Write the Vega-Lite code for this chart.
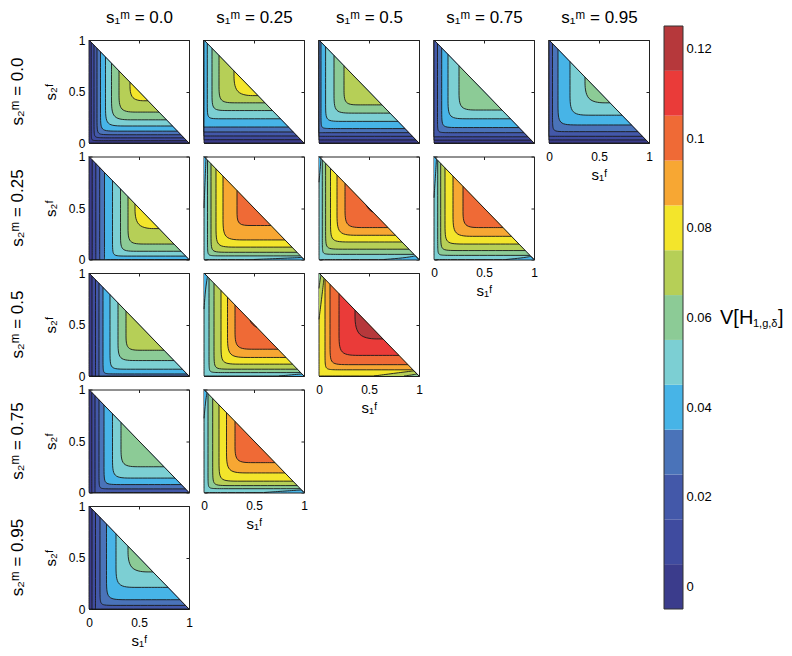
{
"$schema": "https://vega.github.io/schema/vega-lite/v6.json",
"padding": {"left": 9, "top": 8, "right": 0, "bottom": 0},
"datasets": {
"diag": [{"x":0,"y":1},{"x":1,"y":0}],
"bands": [{"b":0,"lo":-0.005,"hi":0.005},{"b":1,"lo":0.005,"hi":0.015},{"b":2,"lo":0.015,"hi":0.025},{"b":3,"lo":0.025,"hi":0.035},{"b":4,"lo":0.035,"hi":0.045},{"b":5,"lo":0.045,"hi":0.055},{"b":6,"lo":0.055,"hi":0.065},{"b":7,"lo":0.065,"hi":0.075},{"b":8,"lo":0.075,"hi":0.085},{"b":9,"lo":0.085,"hi":0.095},{"b":10,"lo":0.095,"hi":0.105},{"b":11,"lo":0.105,"hi":0.115},{"b":12,"lo":0.115,"hi":0.125}],
"A": [{"g":10,"b":0,"x":1,"y":0},{"g":10,"b":0,"x":0,"y":0},{"g":10,"b":0,"x":0,"y":0},{"g":10,"b":0,"x":0,"y":0},{"g":10,"b":0,"x":0,"y":1},
{"g":11,"b":1,"x":0.022,"y":0.978},{"g":11,"b":1,"x":0.022,"y":0.082},{"g":11,"b":1,"x":0.022,"y":0.022},{"g":11,"b":1,"x":0.082,"y":0.022},{"g":11,"b":1,"x":0.978,"y":0.022},
{"g":12,"b":2,"x":0.05,"y":0.95},{"g":12,"b":2,"x":0.05,"y":0.13},{"g":12,"b":2,"x":0.05,"y":0.05},{"g":12,"b":2,"x":0.13,"y":0.05},{"g":12,"b":2,"x":0.95,"y":0.05},
{"g":13,"b":3,"x":0.08,"y":0.92},{"g":13,"b":3,"x":0.08,"y":0.18},{"g":13,"b":3,"x":0.08,"y":0.08},{"g":13,"b":3,"x":0.18,"y":0.08},{"g":13,"b":3,"x":0.92,"y":0.08},
{"g":14,"b":4,"x":0.115,"y":0.885},{"g":14,"b":4,"x":0.115,"y":0.245},{"g":14,"b":4,"x":0.115,"y":0.115},{"g":14,"b":4,"x":0.245,"y":0.115},{"g":14,"b":4,"x":0.885,"y":0.115},
{"g":15,"b":5,"x":0.165,"y":0.835},{"g":15,"b":5,"x":0.165,"y":0.335},{"g":15,"b":5,"x":0.165,"y":0.165},{"g":15,"b":5,"x":0.335,"y":0.165},{"g":15,"b":5,"x":0.835,"y":0.165},
{"g":16,"b":6,"x":0.225,"y":0.775},{"g":16,"b":6,"x":0.225,"y":0.425},{"g":16,"b":6,"x":0.225,"y":0.225},{"g":16,"b":6,"x":0.425,"y":0.225},{"g":16,"b":6,"x":0.775,"y":0.225},
{"g":17,"b":7,"x":0.3,"y":0.7},{"g":17,"b":7,"x":0.3,"y":0.48},{"g":17,"b":7,"x":0.3,"y":0.3},{"g":17,"b":7,"x":0.48,"y":0.3},{"g":17,"b":7,"x":0.7,"y":0.3},
{"g":18,"b":8,"x":0.41,"y":0.59},{"g":18,"b":8,"x":0.41,"y":0.41},{"g":18,"b":8,"x":0.59,"y":0.41}],
"B": [{"g":10,"b":0,"x":1,"y":0},{"g":10,"b":0,"x":0,"y":0},{"g":10,"b":0,"x":0,"y":0},{"g":10,"b":0,"x":0,"y":0},{"g":10,"b":0,"x":0,"y":1},
{"g":11,"b":1,"x":0,"y":1},{"g":11,"b":1,"x":0,"y":0.032},{"g":11,"b":1,"x":0,"y":0.032},{"g":11,"b":1,"x":0,"y":0.032},{"g":11,"b":1,"x":0.968,"y":0.032},
{"g":12,"b":2,"x":0,"y":1},{"g":12,"b":2,"x":0,"y":0.068},{"g":12,"b":2,"x":0,"y":0.068},{"g":12,"b":2,"x":0,"y":0.068},{"g":12,"b":2,"x":0.932,"y":0.068},
{"g":13,"b":3,"x":0,"y":1},{"g":13,"b":3,"x":0,"y":0.107},{"g":13,"b":3,"x":0,"y":0.107},{"g":13,"b":3,"x":0,"y":0.107},{"g":13,"b":3,"x":0.893,"y":0.107},
{"g":14,"b":4,"x":0,"y":1},{"g":14,"b":4,"x":0,"y":0.155},{"g":14,"b":4,"x":0,"y":0.155},{"g":14,"b":4,"x":0,"y":0.155},{"g":14,"b":4,"x":0.845,"y":0.155},
{"g":15,"b":5,"x":0.033,"y":0.967},{"g":15,"b":5,"x":0.033,"y":0.335},{"g":15,"b":5,"x":0.033,"y":0.235},{"g":15,"b":5,"x":0.133,"y":0.235},{"g":15,"b":5,"x":0.765,"y":0.235},
{"g":16,"b":6,"x":0.08,"y":0.92},{"g":16,"b":6,"x":0.08,"y":0.455},{"g":16,"b":6,"x":0.08,"y":0.315},{"g":16,"b":6,"x":0.22,"y":0.315},{"g":16,"b":6,"x":0.685,"y":0.315},
{"g":17,"b":7,"x":0.15,"y":0.85},{"g":17,"b":7,"x":0.15,"y":0.55},{"g":17,"b":7,"x":0.15,"y":0.39},{"g":17,"b":7,"x":0.31,"y":0.39},{"g":17,"b":7,"x":0.61,"y":0.39},
{"g":18,"b":8,"x":0.3,"y":0.7},{"g":18,"b":8,"x":0.3,"y":0.46},{"g":18,"b":8,"x":0.54,"y":0.46}],
"C": [{"g":10,"b":0,"x":1,"y":0},{"g":10,"b":0,"x":0,"y":0},{"g":10,"b":0,"x":0,"y":0},{"g":10,"b":0,"x":0,"y":0},{"g":10,"b":0,"x":0,"y":1},
{"g":11,"b":1,"x":0,"y":1},{"g":11,"b":1,"x":0,"y":0.03},{"g":11,"b":1,"x":0,"y":0.03},{"g":11,"b":1,"x":0,"y":0.03},{"g":11,"b":1,"x":0.97,"y":0.03},
{"g":12,"b":2,"x":0,"y":1},{"g":12,"b":2,"x":0,"y":0.065},{"g":12,"b":2,"x":0,"y":0.065},{"g":12,"b":2,"x":0,"y":0.065},{"g":12,"b":2,"x":0.935,"y":0.065},
{"g":13,"b":3,"x":0,"y":1},{"g":13,"b":3,"x":0,"y":0.1},{"g":13,"b":3,"x":0,"y":0.1},{"g":13,"b":3,"x":0,"y":0.1},{"g":13,"b":3,"x":0.9,"y":0.1},
{"g":14,"b":4,"x":0.02,"y":0.98},{"g":14,"b":4,"x":0.02,"y":0.22},{"g":14,"b":4,"x":0.02,"y":0.14},{"g":14,"b":4,"x":0.1,"y":0.14},{"g":14,"b":4,"x":0.86,"y":0.14},
{"g":15,"b":5,"x":0.066,"y":0.934},{"g":15,"b":5,"x":0.066,"y":0.34},{"g":15,"b":5,"x":0.066,"y":0.21},{"g":15,"b":5,"x":0.196,"y":0.21},{"g":15,"b":5,"x":0.79,"y":0.21},
{"g":16,"b":6,"x":0.15,"y":0.85},{"g":16,"b":6,"x":0.15,"y":0.46},{"g":16,"b":6,"x":0.15,"y":0.29},{"g":16,"b":6,"x":0.32,"y":0.29},{"g":16,"b":6,"x":0.71,"y":0.29},
{"g":17,"b":7,"x":0.25,"y":0.75},{"g":17,"b":7,"x":0.25,"y":0.52},{"g":17,"b":7,"x":0.25,"y":0.37},{"g":17,"b":7,"x":0.4,"y":0.37},{"g":17,"b":7,"x":0.63,"y":0.37}],
"D": [{"g":10,"b":0,"x":1,"y":0},{"g":10,"b":0,"x":0,"y":0},{"g":10,"b":0,"x":0,"y":0},{"g":10,"b":0,"x":0,"y":0},{"g":10,"b":0,"x":0,"y":1},
{"g":11,"b":1,"x":0,"y":1},{"g":11,"b":1,"x":0,"y":0.028},{"g":11,"b":1,"x":0,"y":0.028},{"g":11,"b":1,"x":0,"y":0.028},{"g":11,"b":1,"x":0.972,"y":0.028},
{"g":12,"b":2,"x":0,"y":1},{"g":12,"b":2,"x":0,"y":0.06},{"g":12,"b":2,"x":0,"y":0.06},{"g":12,"b":2,"x":0,"y":0.06},{"g":12,"b":2,"x":0.94,"y":0.06},
{"g":13,"b":3,"x":0.035,"y":0.965},{"g":13,"b":3,"x":0.035,"y":0.18},{"g":13,"b":3,"x":0.035,"y":0.1},{"g":13,"b":3,"x":0.115,"y":0.1},{"g":13,"b":3,"x":0.9,"y":0.1},
{"g":14,"b":4,"x":0.077,"y":0.923},{"g":14,"b":4,"x":0.077,"y":0.27},{"g":14,"b":4,"x":0.077,"y":0.15},{"g":14,"b":4,"x":0.197,"y":0.15},{"g":14,"b":4,"x":0.85,"y":0.15},
{"g":15,"b":5,"x":0.14,"y":0.86},{"g":15,"b":5,"x":0.14,"y":0.405},{"g":15,"b":5,"x":0.14,"y":0.235},{"g":15,"b":5,"x":0.31,"y":0.235},{"g":15,"b":5,"x":0.765,"y":0.235},
{"g":16,"b":6,"x":0.25,"y":0.75},{"g":16,"b":6,"x":0.25,"y":0.5},{"g":16,"b":6,"x":0.25,"y":0.32},{"g":16,"b":6,"x":0.43,"y":0.32},{"g":16,"b":6,"x":0.68,"y":0.32}],
"E": [{"g":10,"b":0,"x":1,"y":0},{"g":10,"b":0,"x":0,"y":0},{"g":10,"b":0,"x":0,"y":0},{"g":10,"b":0,"x":0,"y":0},{"g":10,"b":0,"x":0,"y":1},
{"g":11,"b":1,"x":0,"y":1},{"g":11,"b":1,"x":0,"y":0.03},{"g":11,"b":1,"x":0,"y":0.03},{"g":11,"b":1,"x":0,"y":0.03},{"g":11,"b":1,"x":0.97,"y":0.03},
{"g":12,"b":2,"x":0,"y":1},{"g":12,"b":2,"x":0,"y":0.065},{"g":12,"b":2,"x":0,"y":0.065},{"g":12,"b":2,"x":0,"y":0.065},{"g":12,"b":2,"x":0.935,"y":0.065},
{"g":13,"b":3,"x":0.035,"y":0.965},{"g":13,"b":3,"x":0.035,"y":0.21},{"g":13,"b":3,"x":0.035,"y":0.11},{"g":13,"b":3,"x":0.135,"y":0.11},{"g":13,"b":3,"x":0.89,"y":0.11},
{"g":14,"b":4,"x":0.09,"y":0.91},{"g":14,"b":4,"x":0.09,"y":0.345},{"g":14,"b":4,"x":0.09,"y":0.175},{"g":14,"b":4,"x":0.26,"y":0.175},{"g":14,"b":4,"x":0.825,"y":0.175},
{"g":15,"b":5,"x":0.21,"y":0.79},{"g":15,"b":5,"x":0.21,"y":0.47},{"g":15,"b":5,"x":0.21,"y":0.27},{"g":15,"b":5,"x":0.41,"y":0.27},{"g":15,"b":5,"x":0.73,"y":0.27},
{"g":16,"b":6,"x":0.36,"y":0.64},{"g":16,"b":6,"x":0.36,"y":0.39},{"g":16,"b":6,"x":0.61,"y":0.39}],
"F": [{"g":10,"b":5,"x":1,"y":0},{"g":10,"b":5,"x":0,"y":0},{"g":10,"b":5,"x":0,"y":0},{"g":10,"b":5,"x":0,"y":0},{"g":10,"b":5,"x":0,"y":1},
{"g":11,"b":4,"x":0,"y":0.5},{"g":11,"b":4,"x":0.012,"y":0.8},{"g":11,"b":4,"x":0.02,"y":0.98},{"g":11,"b":4,"x":0.02,"y":0.98},{"g":11,"b":4,"x":0.02,"y":0.98},{"g":11,"b":4,"x":0,"y":1},
{"g":12,"b":4,"x":0.5,"y":0},{"g":12,"b":4,"x":0.8,"y":0.012},{"g":12,"b":4,"x":0.98,"y":0.02},{"g":12,"b":4,"x":0.98,"y":0.02},{"g":12,"b":4,"x":0.98,"y":0.02},{"g":12,"b":4,"x":1,"y":0},
{"g":13,"b":6,"x":0.035,"y":0.965},{"g":13,"b":6,"x":0.035,"y":0.115},{"g":13,"b":6,"x":0.035,"y":0.035},{"g":13,"b":6,"x":0.115,"y":0.035},{"g":13,"b":6,"x":0.965,"y":0.035},
{"g":14,"b":7,"x":0.07,"y":0.93},{"g":14,"b":7,"x":0.07,"y":0.19},{"g":14,"b":7,"x":0.07,"y":0.07},{"g":14,"b":7,"x":0.19,"y":0.07},{"g":14,"b":7,"x":0.93,"y":0.07},
{"g":15,"b":8,"x":0.12,"y":0.88},{"g":15,"b":8,"x":0.12,"y":0.29},{"g":15,"b":8,"x":0.12,"y":0.12},{"g":15,"b":8,"x":0.29,"y":0.12},{"g":15,"b":8,"x":0.88,"y":0.12},
{"g":16,"b":9,"x":0.19,"y":0.81},{"g":16,"b":9,"x":0.19,"y":0.39},{"g":16,"b":9,"x":0.19,"y":0.19},{"g":16,"b":9,"x":0.39,"y":0.19},{"g":16,"b":9,"x":0.81,"y":0.19},
{"g":17,"b":10,"x":0.33,"y":0.67},{"g":17,"b":10,"x":0.33,"y":0.47},{"g":17,"b":10,"x":0.33,"y":0.33},{"g":17,"b":10,"x":0.47,"y":0.33},{"g":17,"b":10,"x":0.67,"y":0.33}],
"G": [{"g":10,"b":5,"x":1,"y":0},{"g":10,"b":5,"x":0,"y":0},{"g":10,"b":5,"x":0,"y":0},{"g":10,"b":5,"x":0,"y":0},{"g":10,"b":5,"x":0,"y":1},
{"g":11,"b":4,"x":0,"y":0.75},{"g":11,"b":4,"x":0.012,"y":0.88},{"g":11,"b":4,"x":0.02,"y":0.98},{"g":11,"b":4,"x":0.02,"y":0.98},{"g":11,"b":4,"x":0.02,"y":0.98},{"g":11,"b":4,"x":0,"y":1},
{"g":12,"b":4,"x":0.65,"y":0},{"g":12,"b":4,"x":0.85,"y":0.015},{"g":12,"b":4,"x":0.965,"y":0.035},{"g":12,"b":4,"x":0.965,"y":0.035},{"g":12,"b":4,"x":0.965,"y":0.035},{"g":12,"b":4,"x":1,"y":0},
{"g":13,"b":6,"x":0.033,"y":0.967},{"g":13,"b":6,"x":0.033,"y":0.13},{"g":13,"b":6,"x":0.033,"y":0.05},{"g":13,"b":6,"x":0.113,"y":0.05},{"g":13,"b":6,"x":0.95,"y":0.05},
{"g":14,"b":7,"x":0.066,"y":0.934},{"g":14,"b":7,"x":0.066,"y":0.22},{"g":14,"b":7,"x":0.066,"y":0.1},{"g":14,"b":7,"x":0.186,"y":0.1},{"g":14,"b":7,"x":0.9,"y":0.1},
{"g":15,"b":8,"x":0.115,"y":0.885},{"g":15,"b":8,"x":0.115,"y":0.33},{"g":15,"b":8,"x":0.115,"y":0.17},{"g":15,"b":8,"x":0.275,"y":0.17},{"g":15,"b":8,"x":0.83,"y":0.17},
{"g":16,"b":9,"x":0.18,"y":0.82},{"g":16,"b":9,"x":0.18,"y":0.435},{"g":16,"b":9,"x":0.18,"y":0.235},{"g":16,"b":9,"x":0.38,"y":0.235},{"g":16,"b":9,"x":0.765,"y":0.235},
{"g":17,"b":10,"x":0.26,"y":0.74},{"g":17,"b":10,"x":0.26,"y":0.49},{"g":17,"b":10,"x":0.26,"y":0.31},{"g":17,"b":10,"x":0.44,"y":0.31},{"g":17,"b":10,"x":0.69,"y":0.31},
{"g":18,"b":11,"x":0.47,"y":0.53},{"g":18,"b":11,"x":0.5,"y":0.48},{"g":18,"b":11,"x":0.54,"y":0.46}],
"H": [{"g":10,"b":5,"x":1,"y":0},{"g":10,"b":5,"x":0,"y":0},{"g":10,"b":5,"x":0,"y":0},{"g":10,"b":5,"x":0,"y":0},{"g":10,"b":5,"x":0,"y":1},
{"g":11,"b":4,"x":0,"y":0.6},{"g":11,"b":4,"x":0.015,"y":0.82},{"g":11,"b":4,"x":0.025,"y":0.975},{"g":11,"b":4,"x":0.025,"y":0.975},{"g":11,"b":4,"x":0.025,"y":0.975},{"g":11,"b":4,"x":0,"y":1},
{"g":12,"b":4,"x":0.72,"y":0},{"g":12,"b":4,"x":0.88,"y":0.015},{"g":12,"b":4,"x":0.97,"y":0.03},{"g":12,"b":4,"x":0.97,"y":0.03},{"g":12,"b":4,"x":0.97,"y":0.03},{"g":12,"b":4,"x":1,"y":0},
{"g":13,"b":6,"x":0.037,"y":0.963},{"g":13,"b":6,"x":0.037,"y":0.12},{"g":13,"b":6,"x":0.037,"y":0.04},{"g":13,"b":6,"x":0.117,"y":0.04},{"g":13,"b":6,"x":0.96,"y":0.04},
{"g":14,"b":7,"x":0.067,"y":0.933},{"g":14,"b":7,"x":0.067,"y":0.207},{"g":14,"b":7,"x":0.067,"y":0.087},{"g":14,"b":7,"x":0.187,"y":0.087},{"g":14,"b":7,"x":0.913,"y":0.087},
{"g":15,"b":8,"x":0.11,"y":0.89},{"g":15,"b":8,"x":0.11,"y":0.31},{"g":15,"b":8,"x":0.11,"y":0.15},{"g":15,"b":8,"x":0.27,"y":0.15},{"g":15,"b":8,"x":0.85,"y":0.15},
{"g":16,"b":9,"x":0.19,"y":0.81},{"g":16,"b":9,"x":0.19,"y":0.425},{"g":16,"b":9,"x":0.19,"y":0.225},{"g":16,"b":9,"x":0.39,"y":0.225},{"g":16,"b":9,"x":0.775,"y":0.225},
{"g":17,"b":10,"x":0.29,"y":0.71},{"g":17,"b":10,"x":0.29,"y":0.48},{"g":17,"b":10,"x":0.29,"y":0.31},{"g":17,"b":10,"x":0.46,"y":0.31},{"g":17,"b":10,"x":0.69,"y":0.31}],
"I": [{"g":10,"b":8,"x":1,"y":0},{"g":10,"b":8,"x":0,"y":0},{"g":10,"b":8,"x":0,"y":0},{"g":10,"b":8,"x":0,"y":0},{"g":10,"b":8,"x":0,"y":1},
{"g":11,"b":7,"x":0,"y":0.55},{"g":11,"b":7,"x":0.03,"y":0.78},{"g":11,"b":7,"x":0.05,"y":0.95},{"g":11,"b":7,"x":0.05,"y":0.95},{"g":11,"b":7,"x":0.05,"y":0.95},{"g":11,"b":7,"x":0,"y":1},
{"g":12,"b":7,"x":0.55,"y":0},{"g":12,"b":7,"x":0.78,"y":0.03},{"g":12,"b":7,"x":0.95,"y":0.05},{"g":12,"b":7,"x":0.95,"y":0.05},{"g":12,"b":7,"x":0.95,"y":0.05},{"g":12,"b":7,"x":1,"y":0},
{"g":13,"b":6,"x":0,"y":0.85},{"g":13,"b":6,"x":0.01,"y":0.93},{"g":13,"b":6,"x":0.02,"y":0.98},{"g":13,"b":6,"x":0.02,"y":0.98},{"g":13,"b":6,"x":0.02,"y":0.98},{"g":13,"b":6,"x":0,"y":1},
{"g":14,"b":6,"x":0.85,"y":0},{"g":14,"b":6,"x":0.93,"y":0.01},{"g":14,"b":6,"x":0.98,"y":0.02},{"g":14,"b":6,"x":0.98,"y":0.02},{"g":14,"b":6,"x":0.98,"y":0.02},{"g":14,"b":6,"x":1,"y":0},
{"g":15,"b":9,"x":0.06,"y":0.94},{"g":15,"b":9,"x":0.06,"y":0.16},{"g":15,"b":9,"x":0.06,"y":0.06},{"g":15,"b":9,"x":0.16,"y":0.06},{"g":15,"b":9,"x":0.94,"y":0.06},
{"g":16,"b":10,"x":0.11,"y":0.89},{"g":16,"b":10,"x":0.11,"y":0.26},{"g":16,"b":10,"x":0.11,"y":0.11},{"g":16,"b":10,"x":0.26,"y":0.11},{"g":16,"b":10,"x":0.89,"y":0.11},
{"g":17,"b":11,"x":0.2,"y":0.8},{"g":17,"b":11,"x":0.2,"y":0.4},{"g":17,"b":11,"x":0.2,"y":0.2},{"g":17,"b":11,"x":0.4,"y":0.2},{"g":17,"b":11,"x":0.8,"y":0.2},
{"g":18,"b":12,"x":0.36,"y":0.64},{"g":18,"b":12,"x":0.36,"y":0.36},{"g":18,"b":12,"x":0.64,"y":0.36}]
},
"hconcat": [
{"spacing": 7, "hconcat": [
{"spacing": 13.5, "bounds": "flush", "vconcat": [
{"width":100,"height":103,"title":{"text":"s₂ᵐ = 0.0","orient":"left","frame":"group","fontSize":17,"fontWeight":"normal","offset":16},
"layer":[{"data":{"name":"A"},"mark":{"type":"line","interpolate":"basis","stroke":"#1a1a1a","strokeWidth":0.9,"strokeJoin":"round"},
"encoding":{"x":{"field":"x","type":"quantitative","scale":{"domain":[0,1],"nice":false},"axis":{"orient":"bottom","values":[0,0.5,1],"labels":false,"title":null}},
"y":{"field":"y","type":"quantitative","scale":{"domain":[0,1],"nice":false},"axis":{"orient":"left","values":[0,0.5,1],"format":"~g","title":"s₂ᶠ","titleFontSize":15,"titlePadding":10,"labelPadding":7}},
"fill":{"field":"b","type":"ordinal","scale":{"domain":[0,1,2,3,4,5,6,7,8,9,10,11,12],"range":["#3b3c8c","#3f4b9f","#4358a9","#4a73b9","#47b4e7","#7ccfd3","#8ccb96","#b6cf57","#f3e52b","#f7a733","#ef6a36","#ea3b39","#b6383b"]},"legend":null},
"detail":{"field":"g","type":"nominal"},"order":{"value":null}}},
{"data":{"name":"diag"},"mark":{"type":"line","stroke":"#1a1a1a","strokeWidth":1},"encoding":{"x":{"field":"x","type":"quantitative","axis":{"orient":"top","values":[0,0.5,1],"labels":false,"title":"s₁ᵐ = 0.0","titleFontSize":17,"titlePadding":13}},"y":{"field":"y","type":"quantitative","axis":{"orient":"right","values":[0,0.5,1],"labels":false,"title":null}}}}],
"resolve":{"axis":{"x":"independent","y":"independent"}}},
{"width":100,"height":103,"title":{"text":"s₂ᵐ = 0.25","orient":"left","frame":"group","fontSize":17,"fontWeight":"normal","offset":16},
"layer":[{"data":{"name":"B"},"mark":{"type":"line","interpolate":"basis","stroke":"#1a1a1a","strokeWidth":0.9,"strokeJoin":"round"},
"encoding":{"x":{"field":"y","type":"quantitative","scale":{"domain":[0,1],"nice":false},"axis":{"orient":"bottom","values":[0,0.5,1],"labels":false,"title":null}},
"y":{"field":"x","type":"quantitative","scale":{"domain":[0,1],"nice":false},"axis":{"orient":"left","values":[0,0.5,1],"format":"~g","title":"s₂ᶠ","titleFontSize":15,"titlePadding":10,"labelPadding":7}},
"fill":{"field":"b","type":"ordinal","scale":{"domain":[0,1,2,3,4,5,6,7,8,9,10,11,12],"range":["#3b3c8c","#3f4b9f","#4358a9","#4a73b9","#47b4e7","#7ccfd3","#8ccb96","#b6cf57","#f3e52b","#f7a733","#ef6a36","#ea3b39","#b6383b"]},"legend":null},
"detail":{"field":"g","type":"nominal"},"order":{"value":null}}},
{"data":{"name":"diag"},"mark":{"type":"line","stroke":"#1a1a1a","strokeWidth":1},"encoding":{"x":{"field":"x","type":"quantitative","axis":{"orient":"top","values":[0,0.5,1],"labels":false,"title":null}},"y":{"field":"y","type":"quantitative","axis":{"orient":"right","values":[0,0.5,1],"labels":false,"title":null}}}}],
"resolve":{"axis":{"x":"independent","y":"independent"}}},
{"width":100,"height":103,"title":{"text":"s₂ᵐ = 0.5","orient":"left","frame":"group","fontSize":17,"fontWeight":"normal","offset":16},
"layer":[{"data":{"name":"C"},"mark":{"type":"line","interpolate":"basis","stroke":"#1a1a1a","strokeWidth":0.9,"strokeJoin":"round"},
"encoding":{"x":{"field":"y","type":"quantitative","scale":{"domain":[0,1],"nice":false},"axis":{"orient":"bottom","values":[0,0.5,1],"labels":false,"title":null}},
"y":{"field":"x","type":"quantitative","scale":{"domain":[0,1],"nice":false},"axis":{"orient":"left","values":[0,0.5,1],"format":"~g","title":"s₂ᶠ","titleFontSize":15,"titlePadding":10,"labelPadding":7}},
"fill":{"field":"b","type":"ordinal","scale":{"domain":[0,1,2,3,4,5,6,7,8,9,10,11,12],"range":["#3b3c8c","#3f4b9f","#4358a9","#4a73b9","#47b4e7","#7ccfd3","#8ccb96","#b6cf57","#f3e52b","#f7a733","#ef6a36","#ea3b39","#b6383b"]},"legend":null},
"detail":{"field":"g","type":"nominal"},"order":{"value":null}}},
{"data":{"name":"diag"},"mark":{"type":"line","stroke":"#1a1a1a","strokeWidth":1},"encoding":{"x":{"field":"x","type":"quantitative","axis":{"orient":"top","values":[0,0.5,1],"labels":false,"title":null}},"y":{"field":"y","type":"quantitative","axis":{"orient":"right","values":[0,0.5,1],"labels":false,"title":null}}}}],
"resolve":{"axis":{"x":"independent","y":"independent"}}},
{"width":100,"height":103,"title":{"text":"s₂ᵐ = 0.75","orient":"left","frame":"group","fontSize":17,"fontWeight":"normal","offset":16},
"layer":[{"data":{"name":"D"},"mark":{"type":"line","interpolate":"basis","stroke":"#1a1a1a","strokeWidth":0.9,"strokeJoin":"round"},
"encoding":{"x":{"field":"y","type":"quantitative","scale":{"domain":[0,1],"nice":false},"axis":{"orient":"bottom","values":[0,0.5,1],"labels":false,"title":null}},
"y":{"field":"x","type":"quantitative","scale":{"domain":[0,1],"nice":false},"axis":{"orient":"left","values":[0,0.5,1],"format":"~g","title":"s₂ᶠ","titleFontSize":15,"titlePadding":10,"labelPadding":7}},
"fill":{"field":"b","type":"ordinal","scale":{"domain":[0,1,2,3,4,5,6,7,8,9,10,11,12],"range":["#3b3c8c","#3f4b9f","#4358a9","#4a73b9","#47b4e7","#7ccfd3","#8ccb96","#b6cf57","#f3e52b","#f7a733","#ef6a36","#ea3b39","#b6383b"]},"legend":null},
"detail":{"field":"g","type":"nominal"},"order":{"value":null}}},
{"data":{"name":"diag"},"mark":{"type":"line","stroke":"#1a1a1a","strokeWidth":1},"encoding":{"x":{"field":"x","type":"quantitative","axis":{"orient":"top","values":[0,0.5,1],"labels":false,"title":null}},"y":{"field":"y","type":"quantitative","axis":{"orient":"right","values":[0,0.5,1],"labels":false,"title":null}}}}],
"resolve":{"axis":{"x":"independent","y":"independent"}}},
{"width":100,"height":103,"title":{"text":"s₂ᵐ = 0.95","orient":"left","frame":"group","fontSize":17,"fontWeight":"normal","offset":16},
"layer":[{"data":{"name":"E"},"mark":{"type":"line","interpolate":"basis","stroke":"#1a1a1a","strokeWidth":0.9,"strokeJoin":"round"},
"encoding":{"x":{"field":"y","type":"quantitative","scale":{"domain":[0,1],"nice":false},"axis":{"orient":"bottom","values":[0,0.5,1],"format":"~g","title":"s₁ᶠ","titleFontSize":15,"titlePadding":5,"labelPadding":11}},
"y":{"field":"x","type":"quantitative","scale":{"domain":[0,1],"nice":false},"axis":{"orient":"left","values":[0,0.5,1],"format":"~g","title":"s₂ᶠ","titleFontSize":15,"titlePadding":10,"labelPadding":7}},
"fill":{"field":"b","type":"ordinal","scale":{"domain":[0,1,2,3,4,5,6,7,8,9,10,11,12],"range":["#3b3c8c","#3f4b9f","#4358a9","#4a73b9","#47b4e7","#7ccfd3","#8ccb96","#b6cf57","#f3e52b","#f7a733","#ef6a36","#ea3b39","#b6383b"]},"legend":null},
"detail":{"field":"g","type":"nominal"},"order":{"value":null}}},
{"data":{"name":"diag"},"mark":{"type":"line","stroke":"#1a1a1a","strokeWidth":1},"encoding":{"x":{"field":"x","type":"quantitative","axis":{"orient":"top","values":[0,0.5,1],"labels":false,"title":null}},"y":{"field":"y","type":"quantitative","axis":{"orient":"right","values":[0,0.5,1],"labels":false,"title":null}}}}],
"resolve":{"axis":{"x":"independent","y":"independent"}}}
]},
{"spacing": 13.5, "bounds": "flush", "vconcat": [
{"width":100,"height":103,
"layer":[{"data":{"name":"B"},"mark":{"type":"line","interpolate":"basis","stroke":"#1a1a1a","strokeWidth":0.9,"strokeJoin":"round"},
"encoding":{"x":{"field":"x","type":"quantitative","scale":{"domain":[0,1],"nice":false},"axis":{"orient":"bottom","values":[0,0.5,1],"labels":false,"title":null}},
"y":{"field":"y","type":"quantitative","scale":{"domain":[0,1],"nice":false},"axis":{"orient":"left","values":[0,0.5,1],"labels":false,"title":null}},
"fill":{"field":"b","type":"ordinal","scale":{"domain":[0,1,2,3,4,5,6,7,8,9,10,11,12],"range":["#3b3c8c","#3f4b9f","#4358a9","#4a73b9","#47b4e7","#7ccfd3","#8ccb96","#b6cf57","#f3e52b","#f7a733","#ef6a36","#ea3b39","#b6383b"]},"legend":null},
"detail":{"field":"g","type":"nominal"},"order":{"value":null}}},
{"data":{"name":"diag"},"mark":{"type":"line","stroke":"#1a1a1a","strokeWidth":1},"encoding":{"x":{"field":"x","type":"quantitative","axis":{"orient":"top","values":[0,0.5,1],"labels":false,"title":"s₁ᵐ = 0.25","titleFontSize":17,"titlePadding":13}},"y":{"field":"y","type":"quantitative","axis":{"orient":"right","values":[0,0.5,1],"labels":false,"title":null}}}}],
"resolve":{"axis":{"x":"independent","y":"independent"}}},
{"width":100,"height":103,
"layer":[{"data":{"name":"F"},"mark":{"type":"line","interpolate":"basis","stroke":"#1a1a1a","strokeWidth":0.9,"strokeJoin":"round"},
"encoding":{"x":{"field":"x","type":"quantitative","scale":{"domain":[0,1],"nice":false},"axis":{"orient":"bottom","values":[0,0.5,1],"labels":false,"title":null}},
"y":{"field":"y","type":"quantitative","scale":{"domain":[0,1],"nice":false},"axis":{"orient":"left","values":[0,0.5,1],"labels":false,"title":null}},
"fill":{"field":"b","type":"ordinal","scale":{"domain":[0,1,2,3,4,5,6,7,8,9,10,11,12],"range":["#3b3c8c","#3f4b9f","#4358a9","#4a73b9","#47b4e7","#7ccfd3","#8ccb96","#b6cf57","#f3e52b","#f7a733","#ef6a36","#ea3b39","#b6383b"]},"legend":null},
"detail":{"field":"g","type":"nominal"},"order":{"value":null}}},
{"data":{"name":"diag"},"mark":{"type":"line","stroke":"#1a1a1a","strokeWidth":1},"encoding":{"x":{"field":"x","type":"quantitative","axis":{"orient":"top","values":[0,0.5,1],"labels":false,"title":null}},"y":{"field":"y","type":"quantitative","axis":{"orient":"right","values":[0,0.5,1],"labels":false,"title":null}}}}],
"resolve":{"axis":{"x":"independent","y":"independent"}}},
{"width":100,"height":103,
"layer":[{"data":{"name":"G"},"mark":{"type":"line","interpolate":"basis","stroke":"#1a1a1a","strokeWidth":0.9,"strokeJoin":"round"},
"encoding":{"x":{"field":"y","type":"quantitative","scale":{"domain":[0,1],"nice":false},"axis":{"orient":"bottom","values":[0,0.5,1],"labels":false,"title":null}},
"y":{"field":"x","type":"quantitative","scale":{"domain":[0,1],"nice":false},"axis":{"orient":"left","values":[0,0.5,1],"labels":false,"title":null}},
"fill":{"field":"b","type":"ordinal","scale":{"domain":[0,1,2,3,4,5,6,7,8,9,10,11,12],"range":["#3b3c8c","#3f4b9f","#4358a9","#4a73b9","#47b4e7","#7ccfd3","#8ccb96","#b6cf57","#f3e52b","#f7a733","#ef6a36","#ea3b39","#b6383b"]},"legend":null},
"detail":{"field":"g","type":"nominal"},"order":{"value":null}}},
{"data":{"name":"diag"},"mark":{"type":"line","stroke":"#1a1a1a","strokeWidth":1},"encoding":{"x":{"field":"x","type":"quantitative","axis":{"orient":"top","values":[0,0.5,1],"labels":false,"title":null}},"y":{"field":"y","type":"quantitative","axis":{"orient":"right","values":[0,0.5,1],"labels":false,"title":null}}}}],
"resolve":{"axis":{"x":"independent","y":"independent"}}},
{"width":100,"height":103,
"layer":[{"data":{"name":"H"},"mark":{"type":"line","interpolate":"basis","stroke":"#1a1a1a","strokeWidth":0.9,"strokeJoin":"round"},
"encoding":{"x":{"field":"y","type":"quantitative","scale":{"domain":[0,1],"nice":false},"axis":{"orient":"bottom","values":[0,0.5,1],"format":"~g","title":"s₁ᶠ","titleFontSize":15,"titlePadding":5,"labelPadding":11}},
"y":{"field":"x","type":"quantitative","scale":{"domain":[0,1],"nice":false},"axis":{"orient":"left","values":[0,0.5,1],"labels":false,"title":null}},
"fill":{"field":"b","type":"ordinal","scale":{"domain":[0,1,2,3,4,5,6,7,8,9,10,11,12],"range":["#3b3c8c","#3f4b9f","#4358a9","#4a73b9","#47b4e7","#7ccfd3","#8ccb96","#b6cf57","#f3e52b","#f7a733","#ef6a36","#ea3b39","#b6383b"]},"legend":null},
"detail":{"field":"g","type":"nominal"},"order":{"value":null}}},
{"data":{"name":"diag"},"mark":{"type":"line","stroke":"#1a1a1a","strokeWidth":1},"encoding":{"x":{"field":"x","type":"quantitative","axis":{"orient":"top","values":[0,0.5,1],"labels":false,"title":null}},"y":{"field":"y","type":"quantitative","axis":{"orient":"right","values":[0,0.5,1],"labels":false,"title":null}}}}],
"resolve":{"axis":{"x":"independent","y":"independent"}}}
]},
{"spacing": 13.5, "bounds": "flush", "vconcat": [
{"width":100,"height":103,
"layer":[{"data":{"name":"C"},"mark":{"type":"line","interpolate":"basis","stroke":"#1a1a1a","strokeWidth":0.9,"strokeJoin":"round"},
"encoding":{"x":{"field":"x","type":"quantitative","scale":{"domain":[0,1],"nice":false},"axis":{"orient":"bottom","values":[0,0.5,1],"labels":false,"title":null}},
"y":{"field":"y","type":"quantitative","scale":{"domain":[0,1],"nice":false},"axis":{"orient":"left","values":[0,0.5,1],"labels":false,"title":null}},
"fill":{"field":"b","type":"ordinal","scale":{"domain":[0,1,2,3,4,5,6,7,8,9,10,11,12],"range":["#3b3c8c","#3f4b9f","#4358a9","#4a73b9","#47b4e7","#7ccfd3","#8ccb96","#b6cf57","#f3e52b","#f7a733","#ef6a36","#ea3b39","#b6383b"]},"legend":null},
"detail":{"field":"g","type":"nominal"},"order":{"value":null}}},
{"data":{"name":"diag"},"mark":{"type":"line","stroke":"#1a1a1a","strokeWidth":1},"encoding":{"x":{"field":"x","type":"quantitative","axis":{"orient":"top","values":[0,0.5,1],"labels":false,"title":"s₁ᵐ = 0.5","titleFontSize":17,"titlePadding":13}},"y":{"field":"y","type":"quantitative","axis":{"orient":"right","values":[0,0.5,1],"labels":false,"title":null}}}}],
"resolve":{"axis":{"x":"independent","y":"independent"}}},
{"width":100,"height":103,
"layer":[{"data":{"name":"G"},"mark":{"type":"line","interpolate":"basis","stroke":"#1a1a1a","strokeWidth":0.9,"strokeJoin":"round"},
"encoding":{"x":{"field":"x","type":"quantitative","scale":{"domain":[0,1],"nice":false},"axis":{"orient":"bottom","values":[0,0.5,1],"labels":false,"title":null}},
"y":{"field":"y","type":"quantitative","scale":{"domain":[0,1],"nice":false},"axis":{"orient":"left","values":[0,0.5,1],"labels":false,"title":null}},
"fill":{"field":"b","type":"ordinal","scale":{"domain":[0,1,2,3,4,5,6,7,8,9,10,11,12],"range":["#3b3c8c","#3f4b9f","#4358a9","#4a73b9","#47b4e7","#7ccfd3","#8ccb96","#b6cf57","#f3e52b","#f7a733","#ef6a36","#ea3b39","#b6383b"]},"legend":null},
"detail":{"field":"g","type":"nominal"},"order":{"value":null}}},
{"data":{"name":"diag"},"mark":{"type":"line","stroke":"#1a1a1a","strokeWidth":1},"encoding":{"x":{"field":"x","type":"quantitative","axis":{"orient":"top","values":[0,0.5,1],"labels":false,"title":null}},"y":{"field":"y","type":"quantitative","axis":{"orient":"right","values":[0,0.5,1],"labels":false,"title":null}}}}],
"resolve":{"axis":{"x":"independent","y":"independent"}}},
{"width":100,"height":103,
"layer":[{"data":{"name":"I"},"mark":{"type":"line","interpolate":"basis","stroke":"#1a1a1a","strokeWidth":0.9,"strokeJoin":"round"},
"encoding":{"x":{"field":"x","type":"quantitative","scale":{"domain":[0,1],"nice":false},"axis":{"orient":"bottom","values":[0,0.5,1],"format":"~g","title":"s₁ᶠ","titleFontSize":15,"titlePadding":5,"labelPadding":11}},
"y":{"field":"y","type":"quantitative","scale":{"domain":[0,1],"nice":false},"axis":{"orient":"left","values":[0,0.5,1],"labels":false,"title":null}},
"fill":{"field":"b","type":"ordinal","scale":{"domain":[0,1,2,3,4,5,6,7,8,9,10,11,12],"range":["#3b3c8c","#3f4b9f","#4358a9","#4a73b9","#47b4e7","#7ccfd3","#8ccb96","#b6cf57","#f3e52b","#f7a733","#ef6a36","#ea3b39","#b6383b"]},"legend":null},
"detail":{"field":"g","type":"nominal"},"order":{"value":null}}},
{"data":{"name":"diag"},"mark":{"type":"line","stroke":"#1a1a1a","strokeWidth":1},"encoding":{"x":{"field":"x","type":"quantitative","axis":{"orient":"top","values":[0,0.5,1],"labels":false,"title":null}},"y":{"field":"y","type":"quantitative","axis":{"orient":"right","values":[0,0.5,1],"labels":false,"title":null}}}}],
"resolve":{"axis":{"x":"independent","y":"independent"}}}
]},
{"spacing": 13.5, "bounds": "flush", "vconcat": [
{"width":100,"height":103,
"layer":[{"data":{"name":"D"},"mark":{"type":"line","interpolate":"basis","stroke":"#1a1a1a","strokeWidth":0.9,"strokeJoin":"round"},
"encoding":{"x":{"field":"x","type":"quantitative","scale":{"domain":[0,1],"nice":false},"axis":{"orient":"bottom","values":[0,0.5,1],"labels":false,"title":null}},
"y":{"field":"y","type":"quantitative","scale":{"domain":[0,1],"nice":false},"axis":{"orient":"left","values":[0,0.5,1],"labels":false,"title":null}},
"fill":{"field":"b","type":"ordinal","scale":{"domain":[0,1,2,3,4,5,6,7,8,9,10,11,12],"range":["#3b3c8c","#3f4b9f","#4358a9","#4a73b9","#47b4e7","#7ccfd3","#8ccb96","#b6cf57","#f3e52b","#f7a733","#ef6a36","#ea3b39","#b6383b"]},"legend":null},
"detail":{"field":"g","type":"nominal"},"order":{"value":null}}},
{"data":{"name":"diag"},"mark":{"type":"line","stroke":"#1a1a1a","strokeWidth":1},"encoding":{"x":{"field":"x","type":"quantitative","axis":{"orient":"top","values":[0,0.5,1],"labels":false,"title":"s₁ᵐ = 0.75","titleFontSize":17,"titlePadding":13}},"y":{"field":"y","type":"quantitative","axis":{"orient":"right","values":[0,0.5,1],"labels":false,"title":null}}}}],
"resolve":{"axis":{"x":"independent","y":"independent"}}},
{"width":100,"height":103,
"layer":[{"data":{"name":"H"},"mark":{"type":"line","interpolate":"basis","stroke":"#1a1a1a","strokeWidth":0.9,"strokeJoin":"round"},
"encoding":{"x":{"field":"x","type":"quantitative","scale":{"domain":[0,1],"nice":false},"axis":{"orient":"bottom","values":[0,0.5,1],"format":"~g","title":"s₁ᶠ","titleFontSize":15,"titlePadding":5,"labelPadding":11}},
"y":{"field":"y","type":"quantitative","scale":{"domain":[0,1],"nice":false},"axis":{"orient":"left","values":[0,0.5,1],"labels":false,"title":null}},
"fill":{"field":"b","type":"ordinal","scale":{"domain":[0,1,2,3,4,5,6,7,8,9,10,11,12],"range":["#3b3c8c","#3f4b9f","#4358a9","#4a73b9","#47b4e7","#7ccfd3","#8ccb96","#b6cf57","#f3e52b","#f7a733","#ef6a36","#ea3b39","#b6383b"]},"legend":null},
"detail":{"field":"g","type":"nominal"},"order":{"value":null}}},
{"data":{"name":"diag"},"mark":{"type":"line","stroke":"#1a1a1a","strokeWidth":1},"encoding":{"x":{"field":"x","type":"quantitative","axis":{"orient":"top","values":[0,0.5,1],"labels":false,"title":null}},"y":{"field":"y","type":"quantitative","axis":{"orient":"right","values":[0,0.5,1],"labels":false,"title":null}}}}],
"resolve":{"axis":{"x":"independent","y":"independent"}}}
]},
{"spacing": 13.5, "bounds": "flush", "vconcat": [
{"width":100,"height":103,
"layer":[{"data":{"name":"E"},"mark":{"type":"line","interpolate":"basis","stroke":"#1a1a1a","strokeWidth":0.9,"strokeJoin":"round"},
"encoding":{"x":{"field":"x","type":"quantitative","scale":{"domain":[0,1],"nice":false},"axis":{"orient":"bottom","values":[0,0.5,1],"format":"~g","title":"s₁ᶠ","titleFontSize":15,"titlePadding":5,"labelPadding":11}},
"y":{"field":"y","type":"quantitative","scale":{"domain":[0,1],"nice":false},"axis":{"orient":"left","values":[0,0.5,1],"labels":false,"title":null}},
"fill":{"field":"b","type":"ordinal","scale":{"domain":[0,1,2,3,4,5,6,7,8,9,10,11,12],"range":["#3b3c8c","#3f4b9f","#4358a9","#4a73b9","#47b4e7","#7ccfd3","#8ccb96","#b6cf57","#f3e52b","#f7a733","#ef6a36","#ea3b39","#b6383b"]},"legend":null},
"detail":{"field":"g","type":"nominal"},"order":{"value":null}}},
{"data":{"name":"diag"},"mark":{"type":"line","stroke":"#1a1a1a","strokeWidth":1},"encoding":{"x":{"field":"x","type":"quantitative","axis":{"orient":"top","values":[0,0.5,1],"labels":false,"title":"s₁ᵐ = 0.95","titleFontSize":17,"titlePadding":13}},"y":{"field":"y","type":"quantitative","axis":{"orient":"right","values":[0,0.5,1],"labels":false,"title":null}}}}],
"resolve":{"axis":{"x":"independent","y":"independent"}}}
]}
]},
{"width": 19, "height": 569,
"layer": [
{"data":{"name":"bands"},"mark":{"type":"rect"},"encoding":{
"x":{"datum":0,"type":"quantitative","scale":{"domain":[0,1],"nice":false},"axis":null},"x2":{"datum":1},
"y":{"field":"lo","type":"quantitative","scale":{"domain":[-0.005,0.12188],"nice":false,"zero":false},"axis":{"orient":"right","values":[0,0.02,0.04,0.06,0.08,0.1,0.12],"format":".2~f","ticks":false,"domain":false,"labelPadding":3,"labelFontSize":13,"title":null}},
"y2":{"field":"hi"},
"color":{"field":"b","type":"ordinal","scale":{"domain":[0,1,2,3,4,5,6,7,8,9,10,11,12],"range":["#3b3c8c","#3f4b9f","#4358a9","#4a73b9","#47b4e7","#7ccfd3","#8ccb96","#b6cf57","#f3e52b","#f7a733","#ef6a36","#ea3b39","#b6383b"]},"legend":null}}},
{"data":{"values":[{}]},"mark":{"type":"rect","filled":false,"color":"#333","strokeWidth":1},"encoding":{"x":{"datum":0,"type":"quantitative"},"x2":{"datum":1},"y":{"datum":-0.005,"type":"quantitative"},"y2":{"datum":0.125}}},
{"data":{"values":[{}]},"mark":{"type":"text","text":"V[H","align":"left","baseline":"middle","fontSize":20,"dx":37},"encoding":{"x":{"datum":1,"type":"quantitative"},"y":{"datum":0.06,"type":"quantitative"}}},
{"data":{"values":[{}]},"mark":{"type":"text","text":"1,g,δ","align":"left","baseline":"middle","fontSize":11,"dx":70,"dy":6},"encoding":{"x":{"datum":1,"type":"quantitative"},"y":{"datum":0.06,"type":"quantitative"}}},
{"data":{"values":[{}]},"mark":{"type":"text","text":"]","align":"left","baseline":"middle","fontSize":20,"dx":95},"encoding":{"x":{"datum":1,"type":"quantitative"},"y":{"datum":0.06,"type":"quantitative"}}}
]}
],
"spacing": 10,
"config": {
"font": "Liberation Sans",
"view": {"stroke": null},
"title": {"fontWeight": "normal", "color": "#000"},
"text": {"color": "#000", "font": "Liberation Sans"},
"axis": {"grid": false, "tickSize": -3, "domainColor": "#222", "tickColor": "#222", "labelFontSize": 12, "labelColor": "#000", "labelFlush": false, "titleFontWeight": "normal", "titleColor": "#000", "zindex": 1}
}
}
